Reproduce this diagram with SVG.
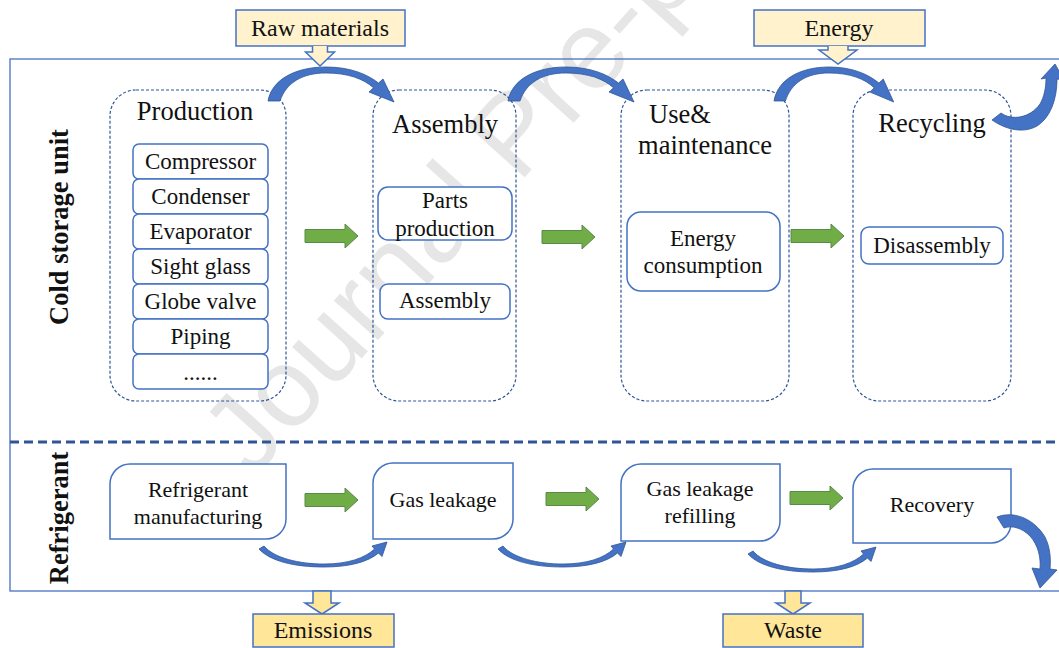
<svg xmlns="http://www.w3.org/2000/svg" xmlns:xlink="http://www.w3.org/1999/xlink" width="1059" height="648" viewBox="0 0 1059 648">
<defs>
<style>
.t{font-family:"Liberation Serif","Times New Roman",serif;fill:#111;text-anchor:middle}
.st{font-size:26.5px}
.it{font-size:23px}
.bt{font-size:22px}
.yt{font-size:24px}
.side{font-size:26.5px;font-weight:bold}
.stage{fill:none;stroke:#2F5597;stroke-width:1.2;stroke-dasharray:3 2}
.box{fill:#fff;stroke:#4472C4;stroke-width:1.5}
.ybox{fill:#FFF2CC;stroke:#4472C4;stroke-width:1.5}
.ybox2{fill:#FFE699;stroke:#4472C4;stroke-width:1.5}
.green{fill:#70AD47;stroke:#5A8A4A;stroke-width:1}
.curve{fill:#4472C4;stroke:#2F5597;stroke-width:0.8}
.wm{font-family:"Liberation Sans",Arial,sans-serif;font-size:112px;fill:#E6E6E6}
</style>
<path id="arcTop" d="M 0 0 C 4 -22, 28 -34, 58 -34 C 82 -34, 99 -27, 110.5 -17.9 L 115 -22 L 126 1 L 101 -9 L 105.5 -13.2 C 96 -22, 80 -28, 58 -28 C 34 -28, 18 -18, 12 0 Z"/>
<path id="arcBot" d="M 0 0 C 10 12, 35 18, 60 18 C 84 18, 101 12, 110.5 3 L 108 0 L 123 -4 L 118 10.5 L 114.5 7 C 104 16, 85 21, 60 21 C 30 21, 6 15, -5 3 Z"/>
<path id="garrow" d="M0 -6.5 H40 V-12 L53 0 L40 12 V6.5 H0 Z"/>
</defs>
<rect width="1059" height="648" fill="#fff"/>
<text class="wm" transform="translate(252,480) rotate(-48)">Journal Pre-proof</text>

<g id="frame">
<rect x="10" y="59" width="1070" height="532" fill="none" stroke="#4472C4" stroke-width="1.3"/>
<line x1="10" y1="442" x2="1059" y2="442" stroke="#2F5597" stroke-width="3" stroke-dasharray="9 5"/>
</g>

<g id="label-cold">
<text class="t side" transform="translate(68,227) rotate(-90)">Cold storage unit</text>
</g>
<g id="label-refrigerant">
<text class="t side" transform="translate(68,518) rotate(-90)">Refrigerant</text>
</g>

<g id="raw-materials">
<rect class="ybox" x="236" y="10" width="169" height="36"/>
<text class="t yt" x="320" y="36">Raw materials</text>
<path class="ybox" d="M312.5 46 V52 H305.5 L320 66 L334.5 52 H327.5 V46"/>
</g>
<g id="energy">
<rect class="ybox" x="754" y="10" width="171" height="36"/>
<text class="t yt" x="839" y="36">Energy</text>
<path class="ybox" d="M828 46 V50 H819 L838 64 L857 50 H848 V46"/>
</g>
<g id="emissions">
<path class="ybox2" d="M313 591 V603 H305 L322 614 L339 603 H331 V591 Z"/>
<rect class="ybox2" x="253" y="614" width="141" height="33"/>
<text class="t yt" x="323" y="638">Emissions</text>
</g>
<g id="waste">
<path class="ybox2" d="M785 591 V603 H776 L793 614 L810 603 H801 V591 Z"/>
<rect class="ybox2" x="723" y="614" width="140" height="33"/>
<text class="t yt" x="793" y="638">Waste</text>
</g>

<g id="production">
<rect class="stage" x="110" y="90" width="176" height="311" rx="26"/>
<text class="t st" x="195" y="120">Production</text>
<rect class="box" x="133" y="144" width="135" height="35" rx="6"/>
<text class="t it" x="200.5" y="169">Compressor</text>
<rect class="box" x="133" y="179" width="135" height="35" rx="6"/>
<text class="t it" x="200.5" y="204">Condenser</text>
<rect class="box" x="133" y="214" width="135" height="35" rx="6"/>
<text class="t it" x="200.5" y="239">Evaporator</text>
<rect class="box" x="133" y="249" width="135" height="35" rx="6"/>
<text class="t it" x="200.5" y="274">Sight glass</text>
<rect class="box" x="133" y="284" width="135" height="35" rx="6"/>
<text class="t it" x="200.5" y="309">Globe valve</text>
<rect class="box" x="133" y="319" width="135" height="35" rx="6"/>
<text class="t it" x="200.5" y="344">Piping</text>
<rect class="box" x="133" y="354" width="135" height="35" rx="6"/>
<text class="t it" x="200.5" y="380">......</text>
</g>

<g id="assembly">
<rect class="stage" x="373" y="90" width="143" height="311" rx="26"/>
<text class="t st" x="445" y="133">Assembly</text>
<rect class="box" x="378" y="187" width="134" height="53" rx="10"/>
<text class="t it" x="445" y="208">Parts</text>
<text class="t it" x="445" y="236">production</text>
<rect class="box" x="380" y="284" width="130" height="35" rx="8"/>
<text class="t it" x="445" y="308">Assembly</text>
</g>

<g id="use-maintenance">
<rect class="stage" x="621" y="90" width="168" height="311" rx="26"/>
<text class="t st" x="680" y="123">Use&amp;</text>
<text class="t st" x="705" y="154">maintenance</text>
<rect class="box" x="627" y="212" width="153" height="79" rx="14"/>
<text class="t it" x="703" y="246">Energy</text>
<text class="t it" x="703" y="273">consumption</text>
</g>

<g id="recycling">
<rect class="stage" x="853" y="90" width="158" height="311" rx="26"/>
<text class="t st" x="932" y="132">Recycling</text>
<rect class="box" x="861" y="227" width="142" height="37" rx="8"/>
<text class="t it" x="932" y="253">Disassembly</text>
</g>

<g id="refrigerant-manufacturing">
<path class="box" d="M130 464 H286 V519 A20 20 0 0 1 266 539 H110 V484 A20 20 0 0 1 130 464 Z"/>
<text class="t bt" x="198" y="497">Refrigerant</text>
<text class="t bt" x="198" y="524">manufacturing</text>
</g>
<g id="gas-leakage">
<path class="box" d="M393 463 H513 V519 A20 20 0 0 1 493 539 H373 V483 A20 20 0 0 1 393 463 Z"/>
<text class="t bt" x="443" y="507">Gas leakage</text>
</g>
<g id="gas-leakage-refilling">
<path class="box" d="M641 464 H780 V521 A20 20 0 0 1 760 541 H621 V484 A20 20 0 0 1 641 464 Z"/>
<text class="t bt" x="700" y="496">Gas leakage</text>
<text class="t bt" x="700" y="523">refilling</text>
</g>
<g id="recovery">
<path class="box" d="M873 469 H1011 V523 A20 20 0 0 1 991 543 H853 V489 A20 20 0 0 1 873 469 Z"/>
<text class="t bt" x="932" y="512">Recovery</text>
</g>

<g id="connectors">
<use xlink:href="#garrow" class="green" transform="translate(305,236)"/>
<use xlink:href="#garrow" class="green" transform="translate(542,237)"/>
<use xlink:href="#garrow" class="green" transform="translate(791,236)"/>
<use xlink:href="#garrow" class="green" transform="translate(305,500)"/>
<use xlink:href="#garrow" class="green" transform="translate(546,499)"/>
<use xlink:href="#garrow" class="green" transform="translate(790,498)"/>
<use xlink:href="#arcTop" class="curve" transform="translate(268,101)"/>
<use xlink:href="#arcTop" class="curve" transform="translate(508,101)"/>
<use xlink:href="#arcTop" class="curve" transform="translate(774,101) scale(0.95,1)"/>
<path class="curve" d="M 992 120 L 1001 113 C 1012 121, 1030 118, 1040 104 C 1044 97, 1046 88, 1046 78 L 1041 79 L 1055 64 L 1064 80 L 1057 79 C 1057 100, 1050 118, 1037 126 C 1025 133, 1008 131, 992 120 Z"/>
<use xlink:href="#arcBot" class="curve" transform="translate(264,546)"/>
<use xlink:href="#arcBot" class="curve" transform="translate(503,546)"/>
<use xlink:href="#arcBot" class="curve" transform="translate(753,551)"/>
<path class="curve" d="M 997 517 C 1015 510, 1035 520, 1045 537 C 1050 547, 1051 558, 1050 569 L 1057 570 L 1040 588 L 1032 568 L 1040 569 C 1041 557, 1038 545, 1030 536 C 1022 528, 1012 525, 1004 528 Z"/>
</g>
</svg>
